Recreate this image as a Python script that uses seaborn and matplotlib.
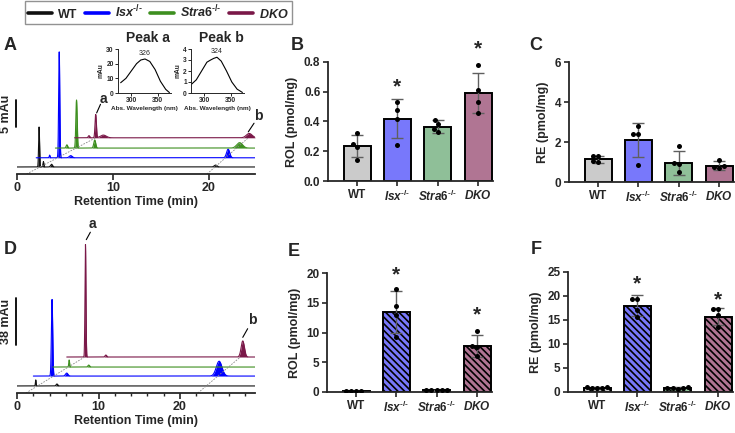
import numpy as np
import pandas as pd
import matplotlib
matplotlib.use("Agg")
import matplotlib.pyplot as plt
import seaborn as sns
from matplotlib.lines import Line2D
from matplotlib.ticker import MultipleLocator

sns.set_style("ticks")
plt.rcParams["font.family"] = ["Liberation Sans", "DejaVu Sans"]
plt.rcParams["font.weight"] = "bold"
plt.rcParams["axes.labelweight"] = "bold"
plt.rcParams["mathtext.fontset"] = "custom"
plt.rcParams["mathtext.it"] = "Liberation Sans:italic:bold"
plt.rcParams["mathtext.rm"] = "Liberation Sans:bold"
plt.rcParams["mathtext.bf"] = "Liberation Sans:bold"
plt.rcParams["mathtext.default"] = "it"
plt.rcParams["hatch.linewidth"] = 1.2

# ---- groups ----
groups = ["WT", "Isx", "Stra6", "DKO"]
group_labels = ["WT", r"$Isx^{\text{-/-}}$", r"$Stra6^{\text{-/-}}$", r"$DKO$"]
line_colors = ["#111111", "#0000ff", "#3d8f1f", "#7a1848"]
bar_colors = ["#cbcbcb", "#7878fb", "#8fbf98", "#b07593"]

# ---- chromatograms: (retention time, height mAu, width min) per trace ----
# panel A
a_offsets = [0.0, 2.0, 4.0, 6.0]          # start time of each stacked trace
a_baselines = [1.3, 3.0, 4.8, 6.7]        # mAu
a_peaks = [
    [(2.3, 7.4, 0.05), (2.75, 1.0, 0.05), (3.6, 0.5, 0.1), (20.7, 0.35, 0.15)],
    [(3.4, 0.5, 0.04), (4.4, 19.6, 0.06), (5.6, 0.4, 0.15), (22.0, 1.6, 0.16)],
    [(5.2, 0.6, 0.08), (6.2, 8.9, 0.07), (8.1, 1.5, 0.1), (23.2, 1.0, 0.3)],
    [(7.5, 0.4, 0.08), (8.2, 4.3, 0.07), (9.0, 0.5, 0.3), (24.2, 0.8, 0.3)],
]
# panel D
d_offsets = [0.0, 2.0, 4.4, 6.1]
d_baselines = [5.7, 13.7, 21.0, 29.1]
d_peaks = [
    [(2.3, 4.9, 0.04), (4.9, 1.6, 0.1)],
    [(4.3, 62.0, 0.08), (6.1, 2.4, 0.15), (24.8, 12.0, 0.35)],
    [(6.4, 5.7, 0.05), (8.8, 1.6, 0.1)],
    [(8.4, 91.0, 0.06), (10.9, 1.6, 0.1), (27.7, 13.0, 0.2)],
]

# ---- inset absorbance spectra ----
spec_a_nm = [280, 290, 300, 310, 318, 326, 335, 345, 355, 365, 372]
spec_a_mau = [7.0, 10.0, 15.0, 20.0, 22.5, 23.2, 21.5, 16.0, 8.0, 2.5, 0.3]
spec_b_nm = [276, 285, 295, 305, 312, 318, 324, 332, 342, 352, 362, 372]
spec_b_mau = [0.8, 1.2, 2.0, 2.8, 3.0, 3.15, 3.25, 2.9, 2.0, 1.0, 0.35, 0.05]

# ---- bar data ----
b_means = [0.235, 0.42, 0.365, 0.59]
b_sds = [0.075, 0.13, 0.045, 0.135]
b_points = [[0.32, 0.25, 0.23, 0.14], [0.53, 0.48, 0.42, 0.24],
            [0.41, 0.38, 0.35, 0.33], [0.78, 0.61, 0.53, 0.46]]
c_means = [1.13, 2.1, 0.95, 0.82]
c_sds = [0.17, 0.85, 0.58, 0.22]
c_points = [[1.3, 1.28, 1.05, 1.02], [2.8, 2.4, 2.4, 0.85],
            [1.8, 0.95, 0.9, 0.5], [1.1, 0.8, 0.75, 0.72]]
e_means = [0.15, 13.4, 0.3, 7.7]
e_sds = [0.03, 3.5, 0.05, 1.9]
e_points = [[0.15, 0.15, 0.15, 0.15], [17.3, 14.5, 13.0, 9.2],
            [0.3, 0.3, 0.3, 0.3, 0.3], [10.3, 7.7, 7.5, 6.0]]
f_means = [0.9, 18.0, 0.85, 15.7]
f_sds = [0.1, 2.2, 0.15, 1.7]
f_points = [[0.9, 1.0, 1.0, 0.9, 0.8], [19.3, 19.3, 17.0, 15.7],
            [1.1, 0.9, 0.8, 0.8, 0.7], [17.3, 17.3, 16.0, 13.5]]
b_stars = [(1, 0.63), (3, 0.89)]
e_stars = [(1, 19.6), (3, 12.9)]
f_stars = [(1, 22.6), (3, 19.2)]

W, H = 735, 433
fig = plt.figure(figsize=(W / 100, H / 100), dpi=100)


def box(l, t, r, b):
    return [l / W, 1 - b / H, (r - l) / W, (b - t) / H]


def chromatogram(ax, offsets, baselines, peaks, xmax):
    t = np.linspace(0, xmax, 3000)
    for off, base, pk, c in zip(offsets, baselines, peaks, line_colors):
        tt = t[t >= off]
        y = np.full_like(tt, base)
        for rt, h, w in pk:
            y += h * np.exp(-0.5 * ((tt - rt) / w) ** 2)
        ax.fill_between(tt, base, y, color=c, lw=0)
        ax.plot(tt, y, color=c, lw=0.8)
    ax.set_xlim(0, xmax)
    for s in ["left", "top", "right"]:
        ax.spines[s].set_visible(False)
    ax.spines["bottom"].set_linewidth(1.3)
    ax.set_yticks([])
    ax.set_xticks([0, 10, 20])
    ax.tick_params(axis="x", length=4, width=1.2, labelsize=9, pad=2)
    ax.set_xlabel("Retention Time (min)", fontsize=9, labelpad=1)


def bar_panel(ax, means, sds, points, ylim, step, ylabel, hatched, stars, fmt):
    sns.barplot(x=groups, y=means, hue=groups, palette=bar_colors, legend=False,
                width=0.67, edgecolor="black", linewidth=1.4, saturation=1, ax=ax)
    if hatched:
        for p in ax.patches:
            p.set_hatch("\\\\\\\\\\")
    ax.errorbar(range(4), means, yerr=sds, fmt="none", ecolor="#5f5f5f",
                elinewidth=1, capsize=4, capthick=1, zorder=3)
    df = pd.DataFrame({"group": [g for g, pts in zip(groups, points) for _ in pts],
                       "value": [v for pts in points for v in pts]})
    sns.swarmplot(data=df, x="group", y="value", order=groups, color="black",
                  size=3.6, ax=ax, zorder=4)
    for i, y in stars:
        ax.text(i, y, "*", ha="center", va="center", fontsize=15, fontweight="bold")
    ax.set_xlim(-0.72, 3.37)
    ax.set_ylim(*ylim)
    ax.yaxis.set_major_locator(MultipleLocator(step))
    ax.yaxis.set_major_formatter(fmt)
    ax.set_xticks(range(4))
    ax.set_xticklabels(group_labels)
    ax.set_xlabel("")
    ax.set_ylabel(ylabel, fontsize=9, labelpad=4)
    sns.despine(ax=ax)
    for s in ["left", "bottom"]:
        ax.spines[s].set_linewidth(1.3)
    ax.tick_params(length=3.5, width=1.2, labelsize=8.5, pad=2)


# ---- panel A ----
axA = fig.add_axes(box(17, 40, 255, 174))
chromatogram(axA, a_offsets, a_baselines, a_peaks, 24.8)
axA.set_ylim(0, 24.8)
axA.plot([1.0, 8.2], [0, 6.7], ls=(0, (2, 1.5)), color="#888888", lw=0.6)
axA.plot([19.8, 24.1], [0, 6.7], ls=(0, (2, 1.5)), color="#888888", lw=0.6)
axA.plot([8.3, 8.7], [11.3, 12.9], color="black", lw=0.8, clip_on=False)
axA.text(9.0, 13.8, "a", fontsize=10, ha="center", va="center")
axA.plot([24.1, 24.7], [7.8, 9.4], color="black", lw=0.8, clip_on=False)
axA.text(25.1, 10.7, "b", fontsize=10, ha="center", va="center", clip_on=False)
axA.plot([-0.15, -0.15], [8.7, 13.7], color="black", lw=1.3, clip_on=False)
axA.text(-1.1, 11.2, "5 mAu", rotation=90, fontsize=9, ha="center", va="center")

# insets
for l, nm, mau, top, step, title, lab in [
        (118, spec_a_nm, spec_a_mau, 30, 10, "Peak a", "326"),
        (191, spec_b_nm, spec_b_mau, 4, 1, "Peak b", "324")]:
    ia = fig.add_axes(box(l, 49, l + 53, 93))
    sns.lineplot(x=nm, y=mau, color="black", lw=0.8, ax=ia)
    ia.set_xlim(275, 375)
    ia.set_ylim(0, top)
    ia.set_xticks([300, 350])
    ia.yaxis.set_major_locator(MultipleLocator(step))
    ia.tick_params(length=2, width=0.7, labelsize=4.8, pad=1)
    for s in ["left", "bottom"]:
        ia.spines[s].set_linewidth(0.7)
    sns.despine(ax=ia)
    ia.set_xlabel("Abs. Wavelength (nm)", fontsize=4.6, labelpad=1.5)
    ia.set_ylabel("mAu", fontsize=4.8, labelpad=1)
    k = int(np.argmax(mau))
    ia.text(nm[k], mau[k] + top * 0.04, lab, fontsize=5, fontweight="normal",
            ha="center", va="bottom")
    fig.text((l + 30) / W, 1 - 38 / H, title, fontsize=10, ha="center", va="center")

# ---- panel D ----
axD = fig.add_axes(box(17, 230, 255, 393))
chromatogram(axD, d_offsets, d_baselines, d_peaks, 29.2)
axD.set_ylim(0, 131.8)
axD.xaxis.set_minor_locator(MultipleLocator(2))
axD.tick_params(axis="x", which="minor", length=2.5, width=1.0)
axD.plot([1.1, 8.3], [0, 29.1], ls=(0, (2, 1.5)), color="#888888", lw=0.6)
axD.plot([22.2, 27.4], [0, 29.1], ls=(0, (2, 1.5)), color="#888888", lw=0.6)
axD.plot([8.5, 9.0], [124, 130], color="black", lw=0.8, clip_on=False)
axD.text(9.2, 137, "a", fontsize=10, ha="center", va="center", clip_on=False)
axD.plot([27.7, 28.3], [45, 52], color="black", lw=0.8, clip_on=False)
axD.text(28.9, 59, "b", fontsize=10, ha="center", va="center", clip_on=False)
axD.plot([-0.15, -0.15], [38.8, 76.8], color="black", lw=1.3, clip_on=False)
axD.text(-1.3, 57.8, "38 mAu", rotation=90, fontsize=9, ha="center", va="center")

# ---- bar panels ----
axB = fig.add_axes(box(328, 62, 493, 181))
bar_panel(axB, b_means, b_sds, b_points, (0, 0.8), 0.2, "ROL (pmol/mg)", False,
          b_stars, "{x:.1f}")
axC = fig.add_axes(box(569, 62, 734, 182))
bar_panel(axC, c_means, c_sds, c_points, (0, 6), 2, "RE (pmol/mg)", False, [],
          "{x:.0f}")
axE = fig.add_axes(box(327, 273, 492, 392))
bar_panel(axE, e_means, e_sds, e_points, (0, 20), 5, "ROL (pmol/mg)", True,
          e_stars, "{x:.0f}")
axF = fig.add_axes(box(568, 272, 733, 392))
bar_panel(axF, f_means, f_sds, f_points, (0, 25), 5, "RE (pmol/mg)", True,
          f_stars, "{x:.0f}")

# panel letters
for letter, x, y in [("A", 4, 45), ("B", 291, 45), ("C", 529, 46),
                     ("D", 4, 250), ("E", 288, 252), ("F", 531, 249)]:
    fig.text(x / W, 1 - y / H, letter, fontsize=13, ha="left", va="center")

# legend
handles = [Line2D([], [], color=c, lw=2.6) for c in line_colors]
fig.legend(handles, group_labels, loc="upper left", bbox_to_anchor=(25 / W, 1 - 1 / H),
           ncol=4, frameon=True, fancybox=False, edgecolor="#777777", fontsize=9,
           handlelength=1.9, handletextpad=0.5, columnspacing=0.6, borderpad=0.25,
           borderaxespad=0)

fig.savefig("out.png", dpi=100)
